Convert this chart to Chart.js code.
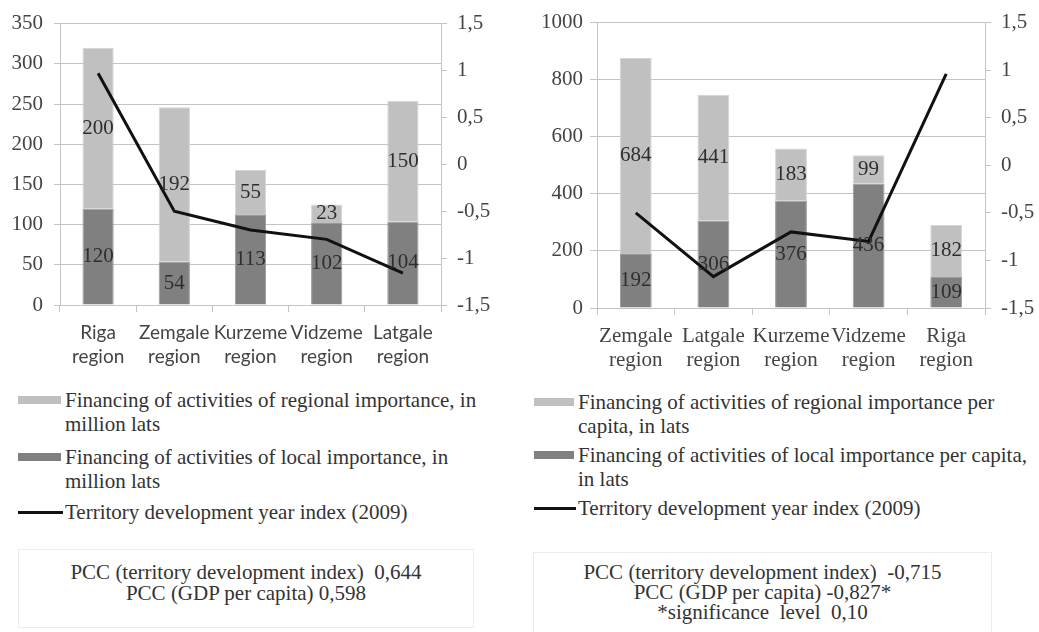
<!DOCTYPE html>
<html>
<head>
<meta charset="utf-8">
<script src="https://cdn.jsdelivr.net/npm/chart.js@4/dist/chart.umd.min.js"></script>
<style>
  body { margin: 0; background: #fff; width: 1039px; height: 632px; position: relative; overflow: hidden;
         font-family: 'Liberation Serif', 'Times New Roman', serif; color: #333; }
  canvas { position: absolute; top: 0; }
  .legend { position: absolute; font-size: 21px; line-height: 24px; white-space: nowrap; }
  .item { position: relative; padding-left: 47px; }
  .sw { position: absolute; left: 0; top: 8px; width: 43px; height: 8px; }
  .ln { position: absolute; left: 0; top: 11px; width: 45px; height: 3px; background: #111; }
  .pcc { position: absolute; border: 1px solid #ececec; text-align: center; font-size: 21px; box-sizing: border-box; white-space: nowrap; }
</style>
</head>
<body>
<canvas id="left" width="520" height="375" style="left:0"></canvas>
<canvas id="right" width="519" height="375" style="left:520px"></canvas>

<div class="legend" style="left:18px; top:388px; width:480px">
  <div class="item"><span class="sw" style="background:#c0c0c0"></span>Financing of activities of regional importance, in<br>million lats</div>
  <div class="item" style="margin-top:9px"><span class="sw" style="background:#808080"></span>Financing of activities of local importance, in<br>million lats</div>
  <div class="item" style="margin-top:7px"><span class="ln"></span>Territory development year index (2009)</div>
</div>
<div class="legend" style="left:534px; top:390px; width:500px">
  <div class="item" style="padding-left:44px"><span class="sw" style="background:#c0c0c0;width:40px"></span>Financing of activities of regional importance per<br>capita, in lats</div>
  <div class="item" style="padding-left:44px;margin-top:5px"><span class="sw" style="background:#808080;width:40px"></span>Financing of activities of local importance per capita,<br>in lats</div>
  <div class="item" style="padding-left:44px;margin-top:5px"><span class="ln" style="width:42px"></span>Territory development year index (2009)</div>
</div>

<div class="pcc" style="left:18px; top:549px; width:456px; height:79px; padding-top:12px; line-height:21px">
  PCC (territory development index)&nbsp; 0,644<br>PCC (GDP per capita) 0,598
</div>
<div class="pcc" style="left:533px; top:552px; width:459px; height:84px; padding-top:9px; line-height:20px">
  PCC (territory development index)&nbsp; -0,715<br>PCC (GDP per capita) -0,827*<br>*significance&nbsp; level&nbsp; 0,10
</div>

<script>
// left chart: million lats
const leftRegions = [['Riga', 'region'], ['Zemgale', 'region'], ['Kurzeme', 'region'], ['Vidzeme', 'region'], ['Latgale', 'region']];
const leftLocal = [120, 54, 113, 102, 104];
const leftRegional = [200, 192, 55, 23, 150];
const leftIndex = [0.97, -0.5, -0.7, -0.8, -1.16];

// right chart: lats per capita
const rightRegions = [['Zemgale', 'region'], ['Latgale', 'region'], ['Kurzeme', 'region'], ['Vidzeme', 'region'], ['Riga', 'region']];
const rightLocal = [192, 306, 376, 436, 109];
const rightRegional = [684, 441, 183, 99, 182];
const rightIndex = [-0.5, -1.17, -0.7, -0.8, 0.96];

const SERIF = "'Liberation Serif', 'Times New Roman', serif";
const GRID = '#c4c4c4';

// values written in the middle of each bar piece
const barValues = {
  id: 'barValues',
  afterDatasetsDraw(chart) {
    const ctx = chart.ctx;
    ctx.save();
    ctx.font = '21px ' + SERIF;
    ctx.fillStyle = '#2e2e2e';
    ctx.textAlign = 'center';
    ctx.textBaseline = 'middle';
    chart.data.datasets.forEach((ds, i) => {
      if (ds.type === 'line') return;
      chart.getDatasetMeta(i).data.forEach((bar, j) => {
        const p = bar.getProps(['x', 'y', 'base'], true);
        ctx.fillText(ds.data[j], p.x, (p.y + p.base) / 2);
      });
    });
    ctx.restore();
  }
};

function makeChart(id, o) {
  return new Chart(document.getElementById(id), {
    type: 'bar',
    data: {
      labels: o.labels,
      datasets: [
        { label: 'local', data: o.local, backgroundColor: '#808080', borderColor: '#9a9a9a', borderWidth: 1, order: 2 },
        { label: 'regional', data: o.regional, backgroundColor: '#c0c0c0', borderColor: '#d4d4d4', borderWidth: 1, order: 2 },
        { type: 'line', label: 'index', data: o.index, yAxisID: 'y1', borderColor: '#111', borderWidth: 3,
          pointRadius: 0, tension: 0, order: 0 }
      ]
    },
    options: {
      responsive: false,
      devicePixelRatio: 1,
      animation: false,
      layout: { padding: { top: o.top } },
      datasets: { bar: { barPercentage: 0.41, categoryPercentage: 1 } },
      plugins: { legend: { display: false }, tooltip: { enabled: false } },
      scales: {
        x: {
          stacked: true,
          afterFit: s => { s.height = o.xh; },
          grid: { offset: true, drawOnChartArea: false, color: GRID, tickLength: 7 },
          border: { color: GRID },
          ticks: { color: '#444', padding: 9, font: o.catFont, autoSkip: false, maxRotation: 0, minRotation: 0 }
        },
        y: {
          stacked: true, min: 0, max: o.max,
          afterFit: s => { s.width = o.yw; },
          grid: { color: GRID, tickLength: o.yTick },
          border: { color: GRID },
          ticks: { stepSize: o.step, color: '#444', padding: o.yPad, font: { family: SERIF, size: 21 },
                   callback: v => String(v) }
        },
        y1: {
          position: 'right', min: -1.5, max: 1.5,
          afterFit: s => { s.width = o.y1w; },
          grid: { drawOnChartArea: false, color: GRID, tickLength: 6 },
          border: { color: GRID },
          ticks: { stepSize: 0.5, color: '#444', padding: 10, font: { family: SERIF, size: 21 },
                   callback: v => String(v).replace('.', ',') }
        }
      }
    },
    plugins: [barValues]
  });
}

makeChart('left', {
  labels: leftRegions, local: leftLocal, regional: leftRegional, index: leftIndex,
  max: 350, step: 50, top: 20, xh: 70, yw: 60, y1w: 79, yPad: 11, yTick: 6,
  catFont: { family: "Lato, 'Open Sans', sans-serif", size: 19, lineHeight: 1.25 }
});

makeChart('right', {
  labels: rightRegions, local: rightLocal, regional: rightRegional, index: rightIndex,
  max: 1000, step: 200, top: 19, xh: 67, yw: 77, y1w: 54, yPad: 7, yTick: 7,
  catFont: { family: SERIF, size: 21, lineHeight: 1.15 }
});
</script>
</body>
</html>
